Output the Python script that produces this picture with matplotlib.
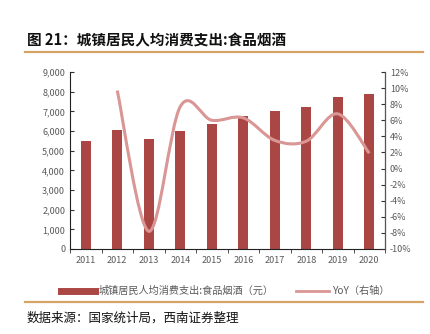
import numpy as np
import matplotlib
matplotlib.use('Agg')
import matplotlib.pyplot as plt
from matplotlib.path import Path
from matplotlib.patches import PathPatch
from matplotlib.lines import Line2D
from matplotlib.ticker import FuncFormatter, FixedLocator

plt.rcParams['font.family'] = ['Noto Sans CJK SC', 'DejaVu Sans']

years = ['2011', '2012', '2013', '2014', '2015', '2016', '2017', '2018', '2019', '2020']
spending = [5506, 6041, 5571, 6000, 6360, 6762, 7001, 7239, 7733, 7881]
yoy_years = ['2012', '2013', '2014', '2015', '2016', '2017', '2018', '2019', '2020']
yoy = [9.7, -7.8, 7.7, 6.0, 6.3, 3.5, 3.4, 6.8, 1.9]

BAR_COLOR = '#AA4643'
LINE_COLOR = '#D99694'
GOLD = '#D3A466'
TICK_COLOR = '#595959'

fig = plt.figure(figsize=(4.3, 3.34), dpi=100)
W, H = 430, 334
ax = fig.add_axes([70 / W, 1 - 249 / H, (385 - 70) / W, (249 - 72) / H])
ax2 = ax.twinx()

x = np.arange(len(years))
ax.bar(x, spending, width=0.33, color=BAR_COLOR, zorder=2)
ax.set_xlim(-0.5, len(years) - 0.5)
ax.set_ylim(0, 9000)
ax.set_yticks(range(0, 9001, 1000))
ax.yaxis.set_major_formatter(FuncFormatter(lambda v, p: f'{int(v):,}'))
ax.set_xticks(x)
ax.set_xticklabels(years)
ax.xaxis.set_minor_locator(FixedLocator(np.arange(-0.5, len(years), 1)))
ax.tick_params(axis='x', which='major', length=0, pad=5, labelsize=6.5, labelcolor=TICK_COLOR)
ax.tick_params(axis='x', which='minor', length=3, direction='out', color='#333333')
ax.tick_params(axis='y', direction='in', length=3, labelsize=6.5, labelcolor=TICK_COLOR, color='#333333')

# Smooth YoY line (Catmull-Rom style bezier, like Excel smoothed lines)
xp = np.array([years.index(y) for y in yoy_years], dtype=float)
yp = np.array(yoy, dtype=float)
verts = [(xp[0], yp[0])]
codes = [Path.MOVETO]
n = len(xp)
for i in range(n - 1):
    p0 = (xp[i - 1], yp[i - 1]) if i > 0 else (xp[i], yp[i])
    p1 = (xp[i], yp[i])
    p2 = (xp[i + 1], yp[i + 1])
    p3 = (xp[i + 2], yp[i + 2]) if i + 2 < n else p2
    c1 = (p1[0] + (p2[0] - p0[0]) / 6, p1[1] + (p2[1] - p0[1]) / 6)
    c2 = (p2[0] - (p3[0] - p1[0]) / 6, p2[1] - (p3[1] - p1[1]) / 6)
    verts += [c1, c2, p2]
    codes += [Path.CURVE4] * 3
ax2.add_patch(PathPatch(Path(verts, codes), facecolor='none', edgecolor=LINE_COLOR,
                        lw=2.2, capstyle='butt', zorder=3))
ax2.set_ylim(-10, 12)
ax2.set_yticks(range(-10, 13, 2))
ax2.yaxis.set_major_formatter(FuncFormatter(lambda v, p: f'{int(v)}%'))
ax2.tick_params(axis='y', direction='in', length=3, labelsize=6.5, labelcolor=TICK_COLOR, color='#333333')

for a in (ax, ax2):
    a.spines['top'].set_visible(False)
ax.spines['left'].set_color('#222222')
ax.spines['bottom'].set_color('#222222')
ax2.spines['right'].set_color('#555555')
ax2.spines['left'].set_visible(False)
ax2.spines['bottom'].set_visible(False)

# Title and separators
fig.text(27 / W, 1 - 40 / H, '图 21：城镇居民人均消费支出:食品烟酒', fontsize=10.5,
         fontweight='bold', va='center', ha='left', color='#111111')
fig.add_artist(Line2D([25 / W, 423 / W], [1 - 52 / H, 1 - 52 / H], color=GOLD, lw=1.6))
fig.add_artist(Line2D([25 / W, 423 / W], [1 - 302 / H, 1 - 302 / H], color=GOLD, lw=1.6))

handles = [Line2D([], [], color=BAR_COLOR, lw=5),
           Line2D([], [], color=LINE_COLOR, lw=2)]
fig.legend(handles, ['城镇居民人均消费支出:食品烟酒（元）', 'YoY（右轴）'],
           loc='center', bbox_to_anchor=(226 / W, 1 - 291 / H), ncol=2, frameon=False,
           fontsize=7.3, handlelength=3.3, columnspacing=2.2, handletextpad=0.4,
           labelcolor=TICK_COLOR)

fig.text(27 / W, 1 - 318 / H, '数据来源：国家统计局，西南证券整理', fontsize=9,
         style='italic', va='center', ha='left', color='#111111')

fig.savefig('out.png', dpi=100)
